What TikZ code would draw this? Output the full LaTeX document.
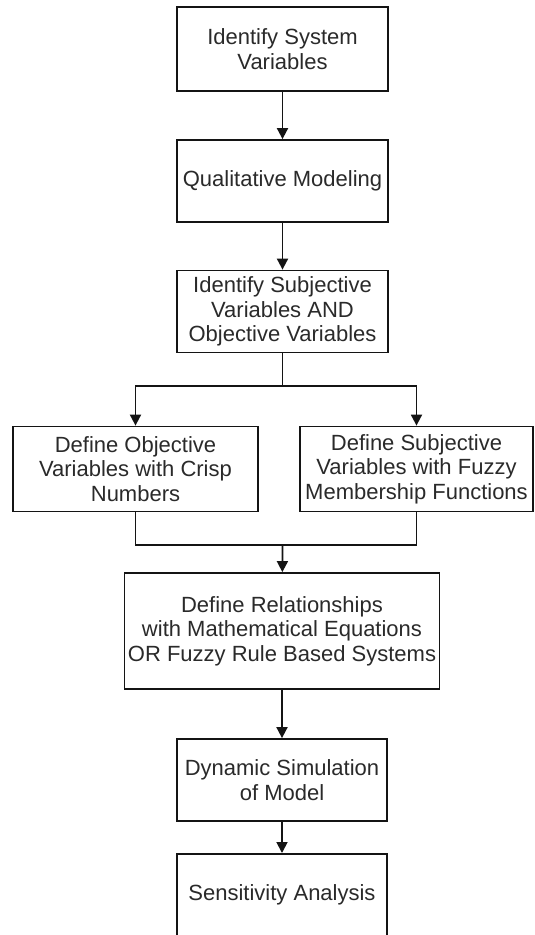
\documentclass[tikz,border=0pt]{standalone}
\usepackage{fontspec}
\setmainfont{Liberation Sans}
\usetikzlibrary{arrows.meta}
\definecolor{txt}{HTML}{2A2A2A}
\definecolor{ln}{HTML}{141414}
\begin{document}
\begin{tikzpicture}[x=1pt,y=-1pt,
  box/.style={draw=ln, line width=1.8pt, fill=white, text=txt, align=center,
    inner sep=0pt, font=\fontsize{22}{24.5}\selectfont},
  arr/.style={draw=ln, line width=1.8pt, -{Triangle[length=11pt,width=11pt]}},
  ln/.style={draw=ln, line width=1.8pt}]
\useasboundingbox (0,0) rectangle (535,935);
\fill[white] (0,0) rectangle (535,935);
\node[box, minimum width=211pt, minimum height=84pt] (b1) at (282.5,49) {Identify System\\Variables};
\node[box, minimum width=211pt, minimum height=82pt] (b2) at (282.5,181) {Qualitative Modeling};
\node[box, minimum width=211pt, minimum height=82pt] (b3) at (282.5,311.5) {Identify Subjective\\Variables AND\\Objective Variables};
\node[box, minimum width=245pt, minimum height=85pt] (bl) at (135.5,469) {Define Objective\\Variables with Crisp\\Numbers};
\node[box, minimum width=233pt, minimum height=85pt] (br) at (416.5,469) {Define Subjective\\Variables with Fuzzy\\Membership Functions};
\node[box, minimum width=315pt, minimum height=116pt] (b5) at (282,631) {Define Relationships\\with Mathematical Equations\\OR Fuzzy Rule Based Systems};
\node[box, minimum width=210pt, minimum height=82pt] (b6) at (282,780) {Dynamic Simulation\\of Model};
\node[box, minimum width=210pt, minimum height=102pt, anchor=north] (b7) at (282,853) {\raisebox{24pt}{Sensitivity Analysis}};
\coordinate (split) at (282.5,386);
\coordinate (join) at (282.5,545);
\draw[arr] (b1) -- (b2);
\draw[arr] (b2) -- (b3);
\draw[ln] (b3) -- (split);
\draw[arr] (split) -| (bl);
\draw[arr] (split) -| (br);
\draw[ln] (bl) |- (join);
\draw[ln] (br) |- (join);
\draw[arr] (join) -- (b5);
\draw[arr] (b5) -- (b6);
\draw[arr] (b6) -- (b7);
\end{tikzpicture}
\end{document}
